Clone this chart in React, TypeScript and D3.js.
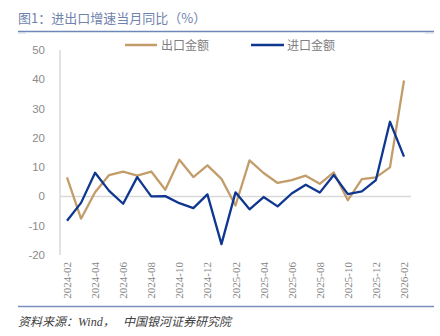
import React from "react";
import * as d3 from "d3";

const months = [
  "2024-02","2024-03","2024-04","2024-05","2024-06","2024-07","2024-08","2024-09","2024-10","2024-11","2024-12",
  "2025-01","2025-02","2025-03","2025-04","2025-05","2025-06","2025-07","2025-08","2025-09","2025-10","2025-11","2025-12",
  "2026-01","2026-02",
];
const exportYoY = [6.5, -7.6, 1.4, 7.3, 8.5, 7.1, 8.5, 2.3, 12.5, 6.6, 10.6, 6.0, -3.1, 12.3, 8.0, 4.6, 5.6, 7.1, 4.3, 8.2, -1.3, 5.9, 6.5, 9.9, 39.6];
const importYoY = [-8.3, -2.2, 8.1, 1.9, -2.5, 6.6, 0.0, 0.1, -2.3, -4.0, 0.7, -16.3, 1.4, -4.4, -0.2, -3.4, 1.0, 4.0, 1.3, 7.3, 0.8, 1.7, 5.6, 25.5, 13.6];
const yTicks = [50, 40, 30, 20, 10, 0, -10, -20];
const seriesNames = ["出口金额", "进口金额"];

export default function App() {
  const W = 440, H = 336;
  const x = d3.scalePoint<string>().domain(months).range([67, 404]);
  const y = d3.scaleLinear().domain([-20, 50]).range([255, 50]);
  const line = d3.line<number>().x((_, i) => x(months[i]) as number).y((d) => y(d));
  const labelMonths = months.filter((_, i) => i % 2 === 0);
  const tan = "#c29d6a";
  const blue = "#0f3790";
  return (
    <svg width={W} height={H} style={{ position: "absolute", left: 0, top: 0 }}>
      <rect width={W} height={H} fill="#fff" />
      <text x={18} y={23} fontSize={13} fill="#6f83ac" fontFamily="'Noto Sans CJK SC', sans-serif">图1：进出口增速当月同比（%）</text>
      <line x1={18} x2={434} y1={31.5} y2={31.5} stroke="#6f86b8" strokeWidth={1.3} />
      <line x1={18} x2={26} y1={33} y2={33} stroke="#c8d2e6" strokeWidth={1} />
      <line x1={425} x2={434} y1={33} y2={33} stroke="#c8d2e6" strokeWidth={1} />
      {/* legend */}
      <line x1={125} x2={157} y1={45} y2={45} stroke={tan} strokeWidth={2.5} />
      <text x={161} y={49.5} fontSize={12} fill="#808080" fontFamily="'Noto Sans CJK SC', sans-serif">{seriesNames[0]}</text>
      <line x1={251} x2={284} y1={45} y2={45} stroke={blue} strokeWidth={2.5} />
      <text x={287} y={49.5} fontSize={12} fill="#808080" fontFamily="'Noto Sans CJK SC', sans-serif">{seriesNames[1]}</text>
      {/* axes */}
      <line x1={60} x2={60} y1={50} y2={255} stroke="#d9d9d9" strokeWidth={1.5} />
      <line x1={60} x2={411} y1={y(0)} y2={y(0)} stroke="#d9d9d9" strokeWidth={1.5} />
      {yTicks.map((t) => (
        <text key={t} x={45} y={y(t) + 4} fontSize={11.5} textAnchor="end" fill="#8c8c8c" fontFamily="'Liberation Sans', Arial, sans-serif">{t}</text>
      ))}
      {labelMonths.map((m) => (
        <text key={m} transform={`translate(${(x(m) as number) + 4},262) rotate(-90)`} fontSize={11} textAnchor="end" fill="#858585" fontFamily="'Liberation Serif', 'Times New Roman', serif">{m}</text>
      ))}
      <path d={line(exportYoY) || ""} fill="none" stroke={tan} strokeWidth={2.3} strokeLinejoin="round" />
      <path d={line(importYoY) || ""} fill="none" stroke={blue} strokeWidth={2.3} strokeLinejoin="round" />
      <line x1={18} x2={434} y1={306.5} y2={306.5} stroke="#7890c0" strokeWidth={1.3} />
      <text x={18} y={326} fontSize={12} fontStyle="italic" fill="#404040" fontFamily="'Liberation Serif', 'Noto Sans CJK SC', serif">资料来源：</text>
      <text x={78} y={326} fontSize={12} fontStyle="italic" fill="#404040" fontFamily="'Liberation Serif', 'Noto Sans CJK SC', serif">Wind，</text>
      <text x={123} y={326} fontSize={12} fontStyle="italic" fill="#404040" fontFamily="'Liberation Serif', 'Noto Sans CJK SC', serif">中国银河证券研究院</text>
    </svg>
  );
}
